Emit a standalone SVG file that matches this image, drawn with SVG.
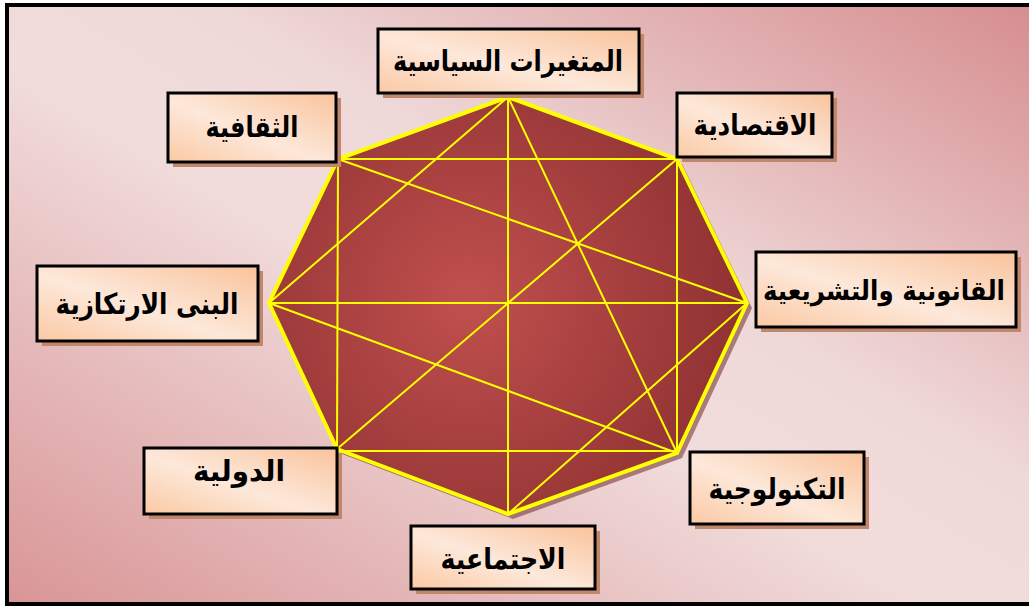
<svg xmlns="http://www.w3.org/2000/svg" width="1029" height="608" viewBox="0 0 1029 608">
<defs>
<linearGradient id="bg" x1="0" y1="1" x2="1" y2="0">
<stop offset="0" stop-color="#d99596"/>
<stop offset="0.45" stop-color="#f1dcdc"/>
<stop offset="0.6" stop-color="#efd8d8"/>
<stop offset="1" stop-color="#d68d8f"/>
</linearGradient>
<radialGradient id="oct" cx="470" cy="300" r="300" gradientUnits="userSpaceOnUse">
<stop offset="0" stop-color="#c0504e"/>
<stop offset="1" stop-color="#8c2f30"/>
</radialGradient>
<linearGradient id="box" x1="0" y1="1" x2="1" y2="0">
<stop offset="0" stop-color="#fbc9a4"/>
<stop offset="0.45" stop-color="#fde8da"/>
<stop offset="1" stop-color="#f9c39c"/>
</linearGradient>
<style>
.shadow{fill:#c0876a}
.box{fill:url(#box);stroke:#000;stroke-width:3}
.lbl{font-family:"DejaVu Sans",sans-serif;font-weight:bold;font-size:29px;fill:#000;text-anchor:middle}
.edge{stroke:#ffff00;stroke-width:2;fill:none}
</style>
</defs>
<rect x="0" y="0" width="1029" height="608" fill="#ffffff"/>
<rect x="7" y="5" width="1030" height="599" fill="url(#bg)" stroke="#000" stroke-width="4"/>
<g id="octagon">
<polygon points="513,102 682,164 752,308 682,458 513,519 342,454 274,308 343,164" fill="#6e2b2b" opacity="0.55"/>
<polygon points="508,97 677,159 747,303 677,453 508,514 337,449 269,303 338,159" fill="url(#oct)" stroke="#ffff00" stroke-width="4" stroke-linejoin="miter"/>
</g>
<g id="connectors">
<line class="edge" x1="338" y1="159" x2="677" y2="159"/>
<line class="edge" x1="337" y1="451" x2="677" y2="451"/>
<line class="edge" x1="269" y1="303" x2="747" y2="303"/>
<line class="edge" x1="508" y1="97" x2="508" y2="514"/>
<line class="edge" x1="338" y1="159" x2="337" y2="449"/>
<line class="edge" x1="677" y1="159" x2="677" y2="453"/>
<line class="edge" x1="508" y1="97" x2="269" y2="303"/>
<line class="edge" x1="508" y1="97" x2="677" y2="453"/>
<line class="edge" x1="338" y1="159" x2="747" y2="303"/>
<line class="edge" x1="677" y1="159" x2="337" y2="449"/>
<line class="edge" x1="269" y1="303" x2="677" y2="453"/>
<line class="edge" x1="747" y1="303" x2="508" y2="514"/>
</g>
<g id="n-politics">
<rect class="shadow" x="383" y="34" width="261" height="64"/>
<rect class="box" x="378" y="29" width="261" height="64"/>
<text class="lbl" x="508" y="71" textLength="230" lengthAdjust="spacingAndGlyphs">المتغيرات السياسية</text>
</g>
<g id="n-culture">
<rect class="shadow" x="173" y="98" width="168" height="69"/>
<rect class="box" x="168" y="93" width="168" height="69"/>
<text class="lbl" x="252" y="137" textLength="93" lengthAdjust="spacingAndGlyphs">الثقافية</text>
</g>
<g id="n-economy">
<rect class="shadow" x="682" y="98" width="155" height="64"/>
<rect class="box" x="677" y="93" width="155" height="64"/>
<text class="lbl" x="755" y="135" textLength="123" lengthAdjust="spacingAndGlyphs">الاقتصادية</text>
</g>
<g id="n-infrastructure">
<rect class="shadow" x="42" y="271" width="221" height="75"/>
<rect class="box" x="37" y="266" width="221" height="75"/>
<text class="lbl" x="147" y="314" textLength="183" lengthAdjust="spacingAndGlyphs">البنى الارتكازية</text>
</g>
<g id="n-legal">
<rect class="shadow" x="761" y="257" width="260" height="75"/>
<rect class="box" x="756" y="252" width="260" height="75"/>
<text class="lbl" x="884" y="300" style="font-size:27px" textLength="242" lengthAdjust="spacingAndGlyphs">القانونية والتشريعية</text>
</g>
<g id="n-international">
<rect class="shadow" x="149" y="453" width="193" height="66"/>
<rect class="box" x="144" y="448" width="193" height="66"/>
<text class="lbl" x="239" y="481" textLength="92" lengthAdjust="spacingAndGlyphs">الدولية</text>
</g>
<g id="n-technology">
<rect class="shadow" x="695" y="457" width="174" height="72"/>
<rect class="box" x="690" y="452" width="174" height="72"/>
<text class="lbl" x="777" y="499" textLength="137" lengthAdjust="spacingAndGlyphs">التكنولوجية</text>
</g>
<g id="n-social">
<rect class="shadow" x="416" y="531" width="184" height="63"/>
<rect class="box" x="411" y="526" width="184" height="63"/>
<text class="lbl" x="503" y="569" textLength="125" lengthAdjust="spacingAndGlyphs">الاجتماعية</text>
</g>
</svg>
